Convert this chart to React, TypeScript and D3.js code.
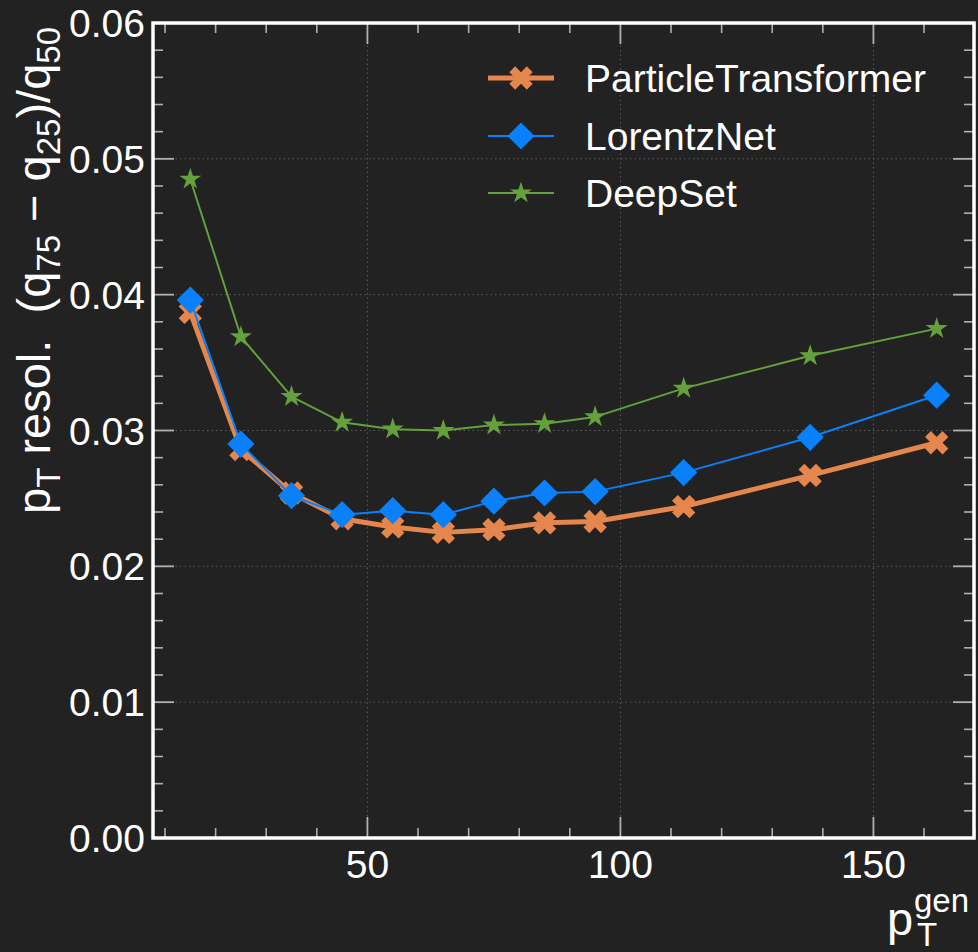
import React, { useEffect, useRef } from 'react';
import * as d3 from 'd3';

// bin centres in pT^gen
const ptCenters = [15, 25, 35, 45, 55, 65, 75, 85, 95, 112.5, 137.5, 162.5];

// resolution (q75 - q25)/q50 per model
const particleTransformer = [0.0387, 0.0286, 0.0254, 0.0235, 0.0229, 0.0225, 0.0227, 0.0232, 0.0233, 0.0244, 0.0267, 0.0291];
const lorentzNet = [0.0396, 0.0290, 0.0252, 0.0238, 0.0241, 0.0238, 0.0248, 0.0254, 0.0255, 0.0269, 0.0295, 0.0326];
const deepSet = [0.0485, 0.0369, 0.0325, 0.0306, 0.0301, 0.0300, 0.0304, 0.0305, 0.0310, 0.0331, 0.0355, 0.0375];

const xMajorTicks = [50, 100, 150];
const yMajorTicks = [0, 0.01, 0.02, 0.03, 0.04, 0.05, 0.06];

const App: React.FC = () => {
  const ref = useRef<SVGSVGElement>(null);

  useEffect(() => {
    const svg = d3.select(ref.current);
    svg.selectAll('*').remove();

    const W = 978;
    const H = 952;
    const left = 153, right = 974, top = 23, bottom = 838;
    const font = "'Liberation Sans', Arial, Helvetica, sans-serif";

    svg.append('rect').attr('width', W).attr('height', H).attr('fill', '#222222');

    const x = d3.scaleLinear().domain([7.625, 169.875]).range([left, right]);
    const y = d3.scaleLinear().domain([0, 0.06]).range([bottom, top]);

    // grid (dotted, at major ticks)
    const grid = svg.append('g').attr('stroke', '#5a5a5a').attr('stroke-width', 1).attr('stroke-dasharray', '1.5,3');
    xMajorTicks.forEach(t => {
      grid.append('line').attr('x1', x(t)).attr('x2', x(t)).attr('y1', top).attr('y2', bottom);
    });
    yMajorTicks.slice(1, -1).forEach(t => {
      grid.append('line').attr('x1', left).attr('x2', right).attr('y1', y(t)).attr('y2', y(t));
    });

    // ticks on all four sides, pointing inward
    const ticks = svg.append('g').attr('stroke', '#b0b0b0');
    const xMinor = d3.range(10, 171, 10).filter(t => !xMajorTicks.includes(t));
    const yMinor = d3.range(0, 0.0601, 0.002).filter(t => !yMajorTicks.some(m => Math.abs(m - t) < 1e-9));
    const addX = (vals: number[], len: number, w: number) => {
      vals.forEach(t => {
        ticks.append('line').attr('x1', x(t)).attr('x2', x(t)).attr('y1', bottom).attr('y2', bottom - len).attr('stroke-width', w);
        ticks.append('line').attr('x1', x(t)).attr('x2', x(t)).attr('y1', top).attr('y2', top + len).attr('stroke-width', w);
      });
    };
    const addY = (vals: number[], len: number, w: number) => {
      vals.forEach(t => {
        ticks.append('line').attr('x1', left).attr('x2', left + len).attr('y1', y(t)).attr('y2', y(t)).attr('stroke-width', w);
        ticks.append('line').attr('x1', right).attr('x2', right - len).attr('y1', y(t)).attr('y2', y(t)).attr('stroke-width', w);
      });
    };
    addX(xMajorTicks, 21, 1.8);
    addX(xMinor, 10, 1.6);
    addY(yMajorTicks, 21, 1.8);
    addY(yMinor, 10, 1.6);

    // tick labels
    svg.append('g')
      .selectAll('text')
      .data(yMajorTicks)
      .enter()
      .append('text')
      .attr('x', left - 8)
      .attr('y', d => y(d) + 14)
      .attr('text-anchor', 'end')
      .attr('fill', '#ffffff')
      .attr('font-family', font)
      .attr('font-size', 39)
      .text(d => d3.format('.2f')(d));

    svg.append('g')
      .selectAll('text')
      .data(xMajorTicks)
      .enter()
      .append('text')
      .attr('x', d => x(d))
      .attr('y', 878)
      .attr('text-anchor', 'middle')
      .attr('fill', '#ffffff')
      .attr('font-family', font)
      .attr('font-size', 39)
      .text(d => String(d));

    // series
    const series = [
      { name: 'ParticleTransformer', values: particleTransformer, color: '#e5874d', width: 5, marker: 'x' },
      { name: 'LorentzNet', values: lorentzNet, color: '#0a80fa', width: 2, marker: 'diamond' },
      { name: 'DeepSet', values: deepSet, color: '#64a03c', width: 2, marker: 'star' },
    ];

    const markerPath = (m: string) => {
      if (m === 'x') return d3.symbol(d3.symbolCross, 340)()!;
      if (m === 'diamond') return d3.symbol(d3.symbolSquare, 370)()!;
      return d3.symbol(d3.symbolStar, 150)()!;
    };
    const markerRot = (m: string) => (m === 'star' ? 0 : 45);

    const line = d3.line<number>().x((_, i) => x(ptCenters[i])).y(d => y(d));

    series.forEach(s => {
      svg.append('path')
        .attr('d', line(s.values)!)
        .attr('fill', 'none')
        .attr('stroke', s.color)
        .attr('stroke-width', s.width)
        .attr('stroke-linejoin', 'round');
      svg.append('g')
        .selectAll('path')
        .data(s.values)
        .enter()
        .append('path')
        .attr('d', markerPath(s.marker))
        .attr('transform', (d, i) => `translate(${x(ptCenters[i])},${y(d)}) rotate(${markerRot(s.marker)})`)
        .attr('fill', s.color);
    });

    // frame
    svg.append('rect')
      .attr('x', left).attr('y', top)
      .attr('width', right - left).attr('height', bottom - top)
      .attr('fill', 'none').attr('stroke', '#ffffff').attr('stroke-width', 3.5);

    // legend
    const legendRows = [78, 136, 193];
    series.forEach((s, i) => {
      const ly = legendRows[i];
      svg.append('line')
        .attr('x1', 488).attr('x2', 554).attr('y1', ly).attr('y2', ly)
        .attr('stroke', s.color).attr('stroke-width', s.width);
      svg.append('path')
        .attr('d', markerPath(s.marker))
        .attr('transform', `translate(521,${ly}) rotate(${markerRot(s.marker)})`)
        .attr('fill', s.color);
      svg.append('text')
        .attr('x', 585).attr('y', ly + 14)
        .attr('fill', '#ffffff')
        .attr('font-family', font)
        .attr('font-size', 39)
        .text(s.name);
    });

    // y label
    const yl = svg.append('text')
      .attr('transform', `translate(50,${top + 4}) rotate(-90)`)
      .attr('text-anchor', 'end')
      .attr('fill', '#ffffff')
      .attr('font-family', font)
      .attr('font-size', 47)
      .style('white-space', 'pre');
    const parts: [string, boolean][] = [
      ['p', false], ['T', true], [' resol.  (q', false], ['75', true],
      [' \u2212 q', false], ['25', true], [')/q', false], ['50', true],
    ];
    let lowered = false;
    parts.forEach(([t, sub]) => {
      const ts = yl.append('tspan').text(t);
      if (sub && !lowered) { ts.attr('dy', 10).attr('font-size', 33); lowered = true; }
      else if (sub) ts.attr('font-size', 33);
      else if (lowered) { ts.attr('dy', -10); lowered = false; }
    });

    // x label
    const xl = svg.append('g').attr('fill', '#ffffff').attr('font-family', font);
    xl.append('text').attr('x', 887).attr('y', 935).attr('font-size', 47).text('p');
    xl.append('text').attr('x', 917).attr('y', 946).attr('font-size', 33).text('T');
    xl.append('text').attr('x', 914).attr('y', 912).attr('font-size', 33).text('gen');
  }, []);

  return (
    <svg
      ref={ref}
      width={978}
      height={952}
      style={{ position: 'absolute', left: 0, top: 0, display: 'block' }}
    />
  );
};

export default App;
